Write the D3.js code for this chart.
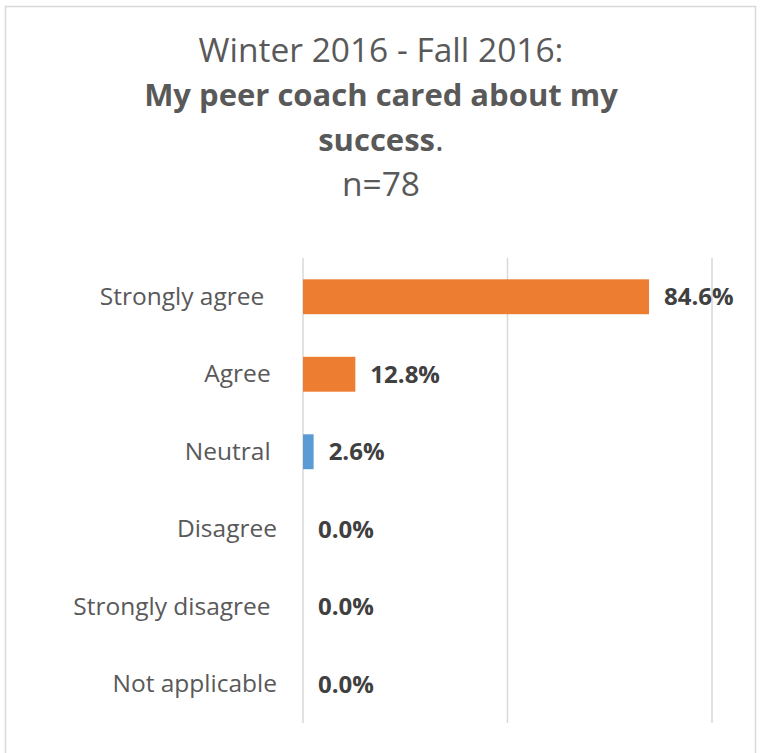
<!DOCTYPE html>
<html>
<head>
<meta charset="utf-8">
<script src="https://cdn.jsdelivr.net/npm/d3@7"></script>
<style>
  html, body { margin: 0; padding: 0; background: #fff; }
  svg { display: block; }
  text { font-family: "Open Sans", Lato, sans-serif; white-space: pre; }
</style>
</head>
<body>
<svg id="chart" width="763" height="753"></svg>
<script>
// Survey responses, share of respondents (%); category names kept as entered, trailing spaces included
const categories = ["Strongly agree  ", "Agree ", "Neutral ", "Disagree", "Strongly disagree ", "Not applicable"];
const values = [84.6, 12.8, 2.6, 0.0, 0.0, 0.0];
const barColors = ["#ED7D31", "#ED7D31", "#5B9BD5", "#5B9BD5", "#5B9BD5", "#5B9BD5"];
const gridTicks = [0, 50, 100];

const titleLine1 = "Winter 2016 - Fall 2016:";
const titleLine2 = "My peer coach cared about my";
const titleLine3Bold = "success";
const titleLine3Plain = ".";
const titleLine4 = "n=78";

const svg = d3.select("#chart");

// outer frame
svg.append("rect")
  .attr("x", 5.5).attr("y", 6.5)
  .attr("width", 750).attr("height", 780)
  .attr("fill", "#fff")
  .attr("stroke", "#D9D9D9").attr("stroke-width", 1.5);

// title
const cx = 381;
const titleSize = 33.5;
const titleBoldSize = 31;
const title = svg.append("g").attr("fill", "#595959").attr("text-anchor", "middle");
title.append("text").attr("x", cx).attr("y", 62).attr("font-size", titleSize).text(titleLine1);
title.append("text").attr("x", cx).attr("y", 106).attr("font-size", titleBoldSize).attr("font-weight", "bold").text(titleLine2);
const t3 = title.append("text").attr("x", cx).attr("y", 151).attr("font-size", titleBoldSize);
t3.append("tspan").attr("font-weight", "bold").text(titleLine3Bold);
t3.append("tspan").attr("font-size", titleSize).text(titleLine3Plain);
title.append("text").attr("x", cx).attr("y", 196).attr("font-size", titleSize).text(titleLine4);

// plot area
const plot = { left: 303, right: 712, top: 258, bottom: 723 };

const x = d3.scaleLinear().domain([0, 100]).range([plot.left, plot.right]);
const y = d3.scaleBand().domain(categories).range([plot.top, plot.bottom]).paddingInner(0.55).paddingOuter(0.275);

// vertical gridlines
svg.append("g").selectAll("line")
  .data(gridTicks)
  .join("line")
  .attr("x1", d => x(d)).attr("x2", d => x(d))
  .attr("y1", plot.top).attr("y2", plot.bottom)
  .attr("stroke", "#D9D9D9").attr("stroke-width", 1.5);

// category axis labels
const yAxis = d3.axisLeft(y).tickSize(0).tickPadding(0);
const yg = svg.append("g").attr("transform", `translate(${plot.left - 26},0)`).call(yAxis);
yg.select(".domain").remove();
yg.selectAll("text")
  .attr("font-size", 24.5)
  .attr("fill", "#595959")
  .attr("font-family", "'Open Sans', Lato, sans-serif")
  .attr("xml:space", "preserve");

// bars
svg.append("g").selectAll("rect")
  .data(values)
  .join("rect")
  .attr("x", x(0))
  .attr("y", (d, i) => y(categories[i]))
  .attr("width", d => x(d) - x(0))
  .attr("height", y.bandwidth())
  .attr("fill", (d, i) => barColors[i]);

// value labels
svg.append("g").selectAll("text")
  .data(values)
  .join("text")
  .attr("x", d => x(d) + 15)
  .attr("y", (d, i) => y(categories[i]) + y.bandwidth() / 2)
  .attr("dy", "0.36em")
  .attr("font-size", 24)
  .attr("font-weight", "bold")
  .attr("fill", "#404040")
  .text(d => d.toFixed(1) + "%");
</script>
</body>
</html>
